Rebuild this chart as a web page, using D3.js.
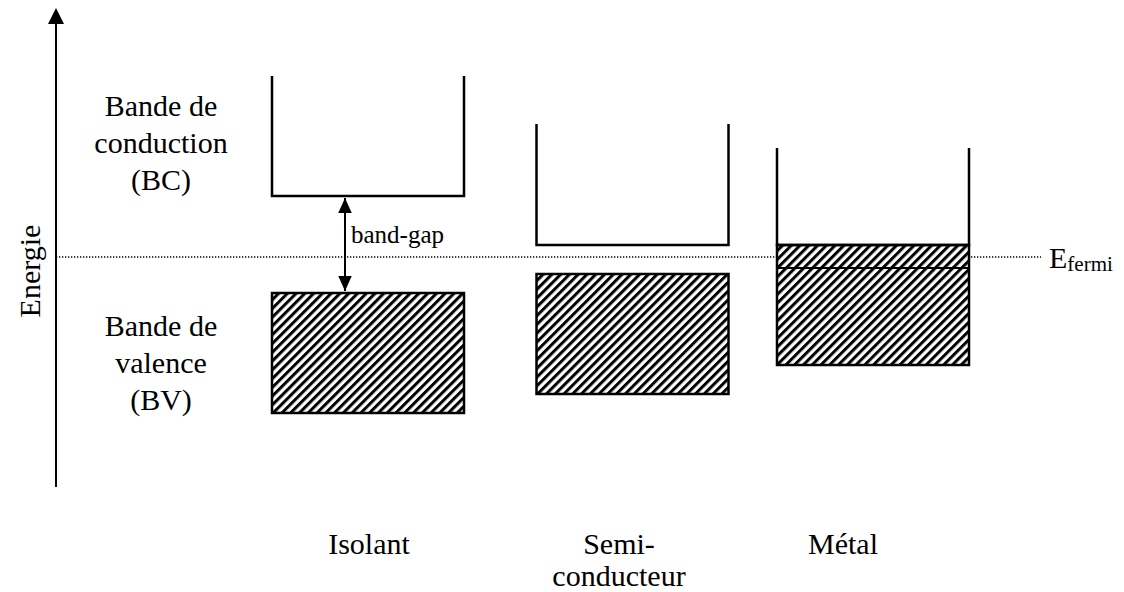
<!DOCTYPE html>
<html>
<head>
<meta charset="utf-8">
<script src="https://cdn.jsdelivr.net/npm/d3@7/dist/d3.min.js"></script>
<style>
  html, body { margin: 0; padding: 0; background: #fff; }
  svg { display: block; }
  text { font-family: "Liberation Serif", "Times New Roman", Times, "DejaVu Serif", serif; fill: #000; }
</style>
</head>
<body>
<svg id="chart" width="1124" height="592"></svg>
<script>
// ---- data (energy in arbitrary units, 0 = bottom of the energy axis) ----
const materials = ["Isolant", "Semi-conducteur", "Métal"];
const materialLabels = [["Isolant"], ["Semi-", "conducteur"], ["Métal"]];
const cbTop = [411, 363, 339];      // top of conduction-band "well"
const cbBottom = [291, 242, 242];   // bottom of conduction band
const vbTop = [194, 213, 219];      // top of valence band
const vbBottom = [74, 93, 122];     // bottom of valence band
const filledTop = [null, null, 242]; // metal: electrons fill into the conduction band
const fermiLevel = 230;
const axisMax = 479;
const bcLabel = ["Bande de", "conduction", "(BC)"];
const bvLabel = ["Bande de", "valence", "(BV)"];

// ---- layout ----
const svg = d3.select("#chart");
const y = d3.scaleLinear().domain([0, axisMax]).range([487, 8]);
const x = d3.scaleOrdinal().domain(materials).range([368, 632.5, 873]);
const xLabel = d3.scaleOrdinal().domain(materials).range([369, 619, 843]);
const boxW = 192;
const axisX = 56;
const fontSize = 30;
const ff = "'Liberation Serif', 'Times New Roman', Times, 'DejaVu Serif', serif";

const defs = svg.append("defs");
const pat = defs.append("pattern")
  .attr("id", "hatch")
  .attr("patternUnits", "userSpaceOnUse")
  .attr("width", 6.2).attr("height", 10)
  .attr("patternTransform", "rotate(45)");
pat.append("rect").attr("width", 6.2).attr("height", 10).attr("fill", "#fff");
pat.append("rect").attr("width", 3).attr("height", 10).attr("fill", "#000");

defs.append("marker")
  .attr("id", "arr")
  .attr("viewBox", "0 0 10 10")
  .attr("refX", 10).attr("refY", 5)
  .attr("markerWidth", 15).attr("markerHeight", 15)
  .attr("markerUnits", "userSpaceOnUse")
  .attr("orient", "auto-start-reverse")
  .append("path").attr("d", "M0,0.5 L10,5 L0,9.5 Z").attr("fill", "#000");

// energy axis
svg.append("line")
  .attr("x1", axisX).attr("x2", axisX)
  .attr("y1", y(0)).attr("y2", y(axisMax) + 14)
  .attr("stroke", "#000").attr("stroke-width", 2);
svg.append("path")
  .attr("d", d3.line()([[axisX - 8, y(axisMax) + 16], [axisX, y(axisMax)], [axisX + 8, y(axisMax) + 16]]) + "Z")
  .attr("fill", "#000");
svg.append("text")
  .attr("transform", `translate(${axisX - 23},${y(fermiLevel) + 14}) rotate(-90)`)
  .attr("text-anchor", "middle")
  .attr("dominant-baseline", "middle")
  .attr("font-family", ff)
  .attr("font-size", fontSize)
  .text("Energie");

// Fermi level
svg.append("line")
  .attr("x1", axisX).attr("x2", 1041)
  .attr("y1", y(fermiLevel)).attr("y2", y(fermiLevel))
  .attr("stroke", "#000").attr("stroke-width", 1.3)
  .attr("stroke-dasharray", "1.3,1.7");
const ef = svg.append("text")
  .attr("x", 1049).attr("y", y(fermiLevel) + 11)
  .attr("font-family", ff)
  .attr("font-size", 30);
ef.append("tspan").text("E");
ef.append("tspan").attr("font-size", 21).attr("dy", 3).text("fermi");

// bands
materials.forEach((m, i) => {
  const cx = x(m), x0 = cx - boxW / 2, x1 = cx + boxW / 2;
  const fillTop = filledTop[i] != null ? filledTop[i] : vbTop[i];
  svg.append("rect")
    .attr("x", x0).attr("y", y(fillTop))
    .attr("width", boxW).attr("height", y(vbBottom[i]) - y(fillTop))
    .attr("fill", "url(#hatch)")
    .attr("stroke", "#000").attr("stroke-width", 2.5);
  if (filledTop[i] != null) {
    svg.append("line")
      .attr("x1", x0).attr("x2", x1)
      .attr("y1", y(vbTop[i])).attr("y2", y(vbTop[i]))
      .attr("stroke", "#000").attr("stroke-width", 2);
  }
  svg.append("path")
    .attr("d", d3.line()([[x0, y(cbTop[i])], [x0, y(cbBottom[i])], [x1, y(cbBottom[i])], [x1, y(cbTop[i])]]))
    .attr("fill", "none").attr("stroke", "#000").attr("stroke-width", 2.5);
  const t = svg.append("text")
    .attr("text-anchor", "middle")
    .attr("font-family", ff)
    .attr("font-size", fontSize);
  materialLabels[i].forEach((ln, j) => {
    t.append("tspan").attr("x", xLabel(m)).attr("y", 554 + j * 32).text(ln);
  });
});

// band-gap arrow (insulator)
const gx = 345;
svg.append("line")
  .attr("x1", gx).attr("x2", gx)
  .attr("y1", y(cbBottom[0]) + 2).attr("y2", y(vbTop[0]) - 2)
  .attr("stroke", "#000").attr("stroke-width", 2)
  .attr("marker-start", "url(#arr)")
  .attr("marker-end", "url(#arr)");
svg.append("text")
  .attr("x", gx + 6).attr("y", 243)
  .attr("font-family", ff)
  .attr("font-size", 25)
  .text("band-gap");

// side labels
const lt = svg.append("text").attr("text-anchor", "middle").attr("font-family", ff).attr("font-size", fontSize);
bcLabel.forEach((ln, j) => lt.append("tspan").attr("x", 161).attr("y", 116 + j * 37).text(ln));
const lv = svg.append("text").attr("text-anchor", "middle").attr("font-family", ff).attr("font-size", fontSize);
bvLabel.forEach((ln, j) => lv.append("tspan").attr("x", 161).attr("y", 336 + j * 37).text(ln));
</script>
</body>
</html>
